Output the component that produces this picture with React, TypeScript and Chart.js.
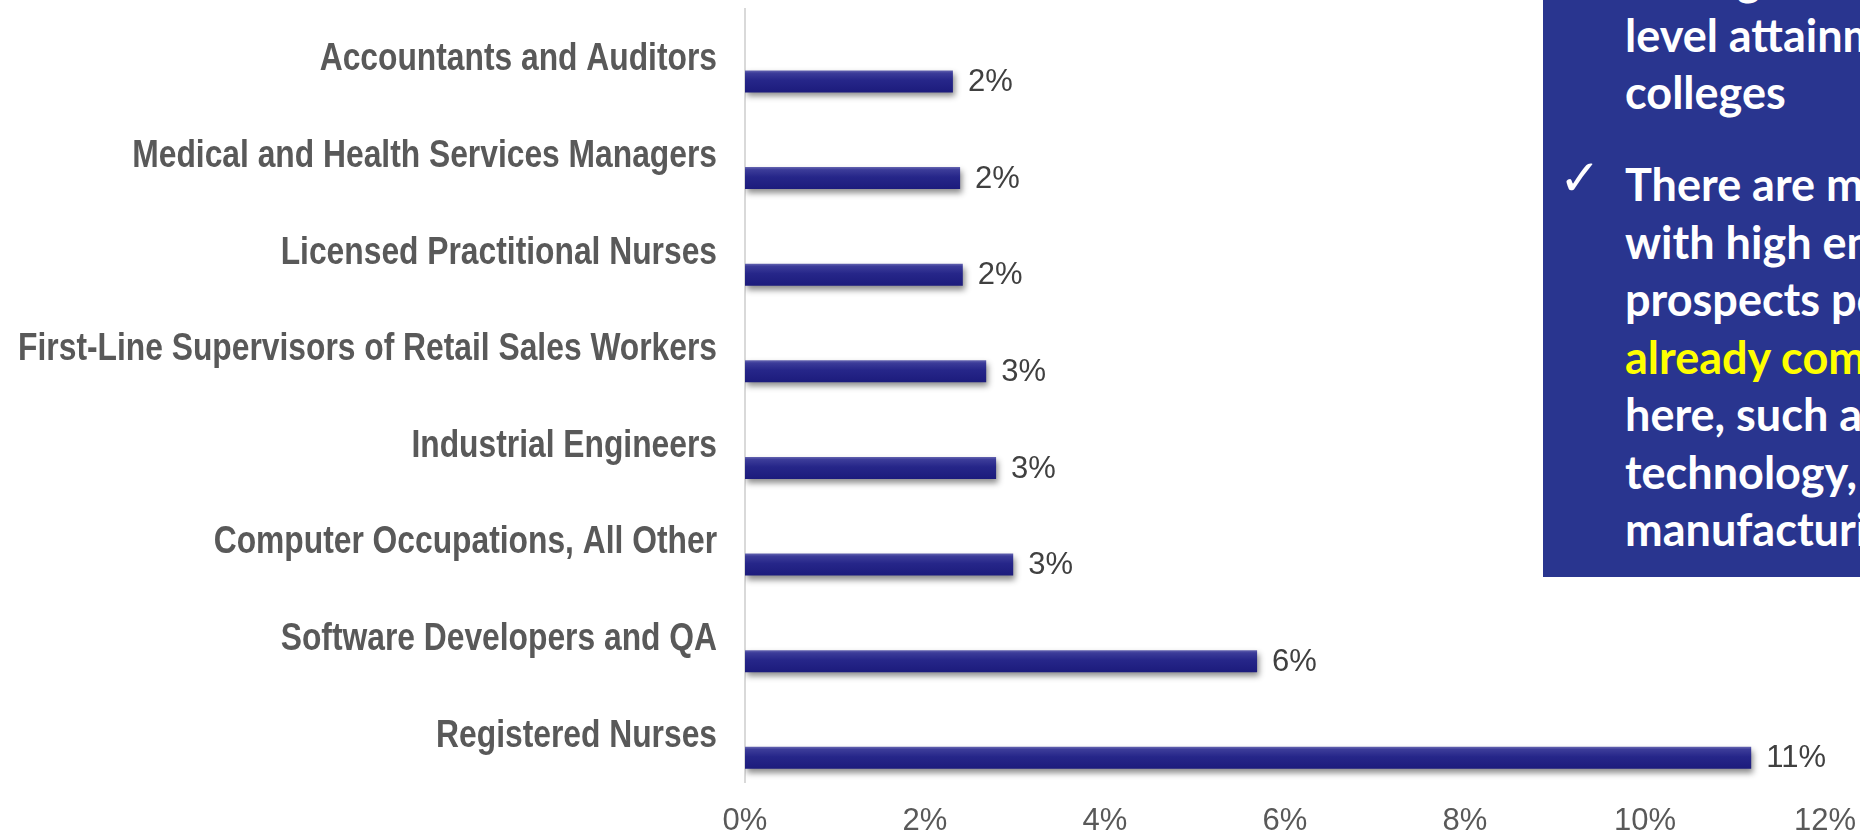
import React, { useEffect, useRef } from "react";
import { Chart, registerables } from "chart.js";

Chart.register(...registerables);

const categories = [
  "Accountants and Auditors",
  "Medical and Health Services Managers",
  "Licensed Practitional Nurses",
  "First-Line Supervisors of Retail Sales Workers",
  "Industrial Engineers",
  "Computer Occupations, All Other",
  "Software Developers and QA",
  "Registered Nurses",
];
const shares = [2.31, 2.39, 2.42, 2.68, 2.79, 2.98, 5.69, 11.18];
const xTickValues = [0, 2, 4, 6, 8, 10, 12];

const paragraph1 = ["among the highest degree-", "level attainment", "colleges"];
const paragraph2 = [
  "There are many",
  "with high employment",
  "prospects possibly",
  "already common",
  "here, such as",
  "technology,",
  "manufacturing",
];
const highlightedLine = 3;

const barStyle = {
  id: "barStyle",
  beforeDatasetsDraw(chart: any) {
    const ctx = chart.ctx;
    const meta = chart.getDatasetMeta(1);
    meta.data.forEach((el: any) => {
      const { y, height } = el.getProps(["y", "height"], true);
      const h = Math.abs(height);
      const g = ctx.createLinearGradient(0, y - h / 2, 0, y + h / 2);
      g.addColorStop(0, "#6464b0");
      g.addColorStop(0.12, "#3c3c99");
      g.addColorStop(0.45, "#262689");
      g.addColorStop(1, "#1c1b7c");
      el.options = Object.assign({}, el.options, { backgroundColor: g });
    });
    ctx.save();
    ctx.shadowColor = "rgba(0,0,0,0.45)";
    ctx.shadowBlur = 6;
    ctx.shadowOffsetX = 2;
    ctx.shadowOffsetY = 4;
  },
  afterDatasetsDraw(chart: any) {
    chart.ctx.restore();
  },
};

// Category labels: Arial-Narrow-like bold text (Liberation Sans Bold, horizontally condensed)
const categoryLabels = {
  id: "categoryLabels",
  afterDraw(chart: any) {
    const ctx = chart.ctx;
    const yScale = chart.scales.y;
    ctx.save();
    ctx.font = "bold 39px 'Liberation Sans', Arial, sans-serif";
    ctx.fillStyle = "#595959";
    ctx.textAlign = "right";
    ctx.textBaseline = "alphabetic";
    const right = yScale.right - 28;
    categories.forEach((label, i) => {
      const y = yScale.getPixelForTick(i);
      ctx.save();
      ctx.translate(right, y + 13);
      ctx.scale(0.815, 1);
      ctx.fillText(label, 0, 0);
      ctx.restore();
    });
    ctx.restore();
  },
};

const valueLabels = {
  id: "valueLabels",
  afterDraw(chart: any) {
    const ctx = chart.ctx;
    const meta = chart.getDatasetMeta(1);
    ctx.save();
    ctx.font = "31px 'Liberation Sans', Arial, sans-serif";
    ctx.fillStyle = "#404040";
    ctx.textAlign = "left";
    ctx.textBaseline = "middle";
    meta.data.forEach((el: any, i: number) => {
      const { x, y } = el.getProps(["x", "y"], true);
      ctx.fillText(Math.round(shares[i]) + "%", x + 15, y + 1);
    });
    ctx.restore();
  },
};

function BarChart() {
  const ref = useRef<HTMLCanvasElement | null>(null);
  useEffect(() => {
    if (!ref.current) return;
    const chart = new Chart(ref.current, {
      type: "bar",
      data: {
        labels: categories,
        datasets: [
          { label: "spacer", data: categories.map(() => null), backgroundColor: "rgba(0,0,0,0)" },
          {
            label: "Share",
            data: shares,
            backgroundColor: "#262689",
            borderWidth: 0,
          },
        ],
      },
      options: {
        indexAxis: "y",
        responsive: false,
        animation: false,
        events: [],
        layout: { padding: { top: 9, right: 35, left: 0, bottom: 0 } },
        datasets: { bar: { categoryPercentage: 1.0, barPercentage: 0.455 } },
        plugins: { legend: { display: false }, tooltip: { enabled: false } },
        scales: {
          x: {
            type: "linear",
            min: 0,
            max: 12,
            afterBuildTicks: (s: any) => {
              s.ticks = xTickValues.map((v) => ({ value: v }));
            },
            afterFit: (s: any) => {
              s.height = 52;
              s.paddingLeft = 0;
              s.paddingRight = 0;
            },
            grid: { display: false, drawTicks: false },
            border: { display: false },
            ticks: {
              padding: 21,
              color: "#595959",
              font: { family: "'Liberation Sans', Arial, sans-serif", size: 31 },
              callback: (v: any) => v + "%",
            },
          },
          y: {
            type: "category",
            afterFit: (s: any) => {
              s.width = 745;
              s.paddingTop = 0;
              s.paddingBottom = 0;
            },
            grid: { display: false, drawTicks: false },
            border: { display: true, color: "#d9d9d9", width: 2 },
            ticks: { display: false, autoSkip: false },
          },
        },
      },
      plugins: [barStyle, categoryLabels, valueLabels],
    } as any);
    return () => chart.destroy();
  }, []);
  return (
    <canvas
      ref={ref}
      width={1860}
      height={834}
      style={{ position: "absolute", left: 0, top: 0, width: 1860, height: 834 }}
    />
  );
}

const lineStyle: React.CSSProperties = {
  position: "absolute",
  left: 82,
  whiteSpace: "nowrap",
  height: 57.5,
  lineHeight: "57.5px",
};

function TextBox() {
  return (
    <div
      style={{
        position: "absolute",
        left: 1543,
        top: 0,
        width: 317,
        height: 577,
        background: "#29358f",
        overflow: "hidden",
        color: "#ffffff",
        fontFamily: "Lato, 'Open Sans', sans-serif",
        fontWeight: 700,
        fontSize: 45,
      }}
    >
      {paragraph1.map((t, i) => (
        <div key={"p1" + i} style={{ ...lineStyle, top: -50 + i * 57 }}>
          {t}
        </div>
      ))}
      <div
        style={{
          position: "absolute",
          left: 16,
          top: 148,
          lineHeight: "60px",
          fontFamily: "'DejaVu Sans', sans-serif",
          fontWeight: 400,
          fontSize: 50,
        }}
      >
        ✓
      </div>
      {paragraph2.map((t, i) => (
        <div
          key={"p2" + i}
          style={{ ...lineStyle, top: 156 + i * 57.5, color: i === highlightedLine ? "#ffff00" : "#ffffff" }}
        >
          {t}
        </div>
      ))}
    </div>
  );
}

export default function App() {
  return (
    <div style={{ position: "absolute", left: 0, top: 0, width: 1860, height: 834, overflow: "hidden", background: "#ffffff" }}>
      <BarChart />
      <TextBox />
    </div>
  );
}
